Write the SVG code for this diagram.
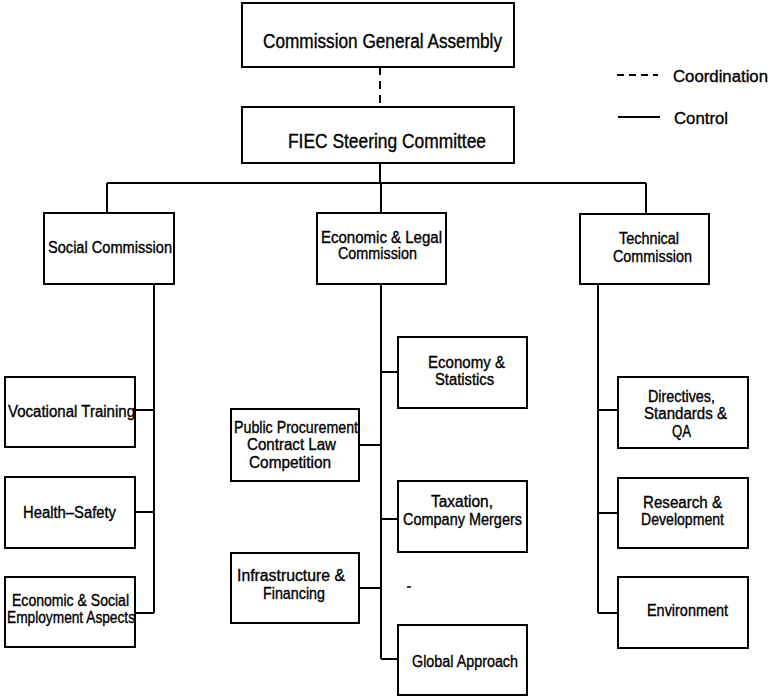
<svg xmlns="http://www.w3.org/2000/svg" width="771" height="696" viewBox="0 0 771 696">
<style>
rect{fill:#fff;stroke:#000;stroke-width:2}
text{font-family:"Liberation Sans",Arial,sans-serif;font-size:16px;fill:#000;stroke:#000;stroke-width:0.35}
.big{font-size:19.5px}
.c{fill:none;stroke:#000;stroke-width:2}
.d{fill:none;stroke:#000;stroke-width:2;stroke-dasharray:8,6}
</style>
<rect width="771" height="696" style="fill:#fff;stroke:none"/>
<g id="connectors">
<path class="d" d="M380 67V107"/>
<path class="c" d="M380 163V183M107 183H646M107 183V213M381 183V213M646 183V214"/>
<path class="c" d="M154 284V613M135 410H154M135 512H154M135 613H154"/>
<path class="c" d="M381 284V659M381 372H398M359 445H381M381 519H398M359 588H381M381 659H398"/>
<path class="c" d="M598 284V613M598 410H618M598 513H618M598 613H618"/>
<path class="c" d="M407 587H411" style="stroke-width:1.5"/>
</g>
<g id="legend">
<path class="d" d="M617 75H658" style="stroke-dasharray:7,5"/>
<text x="673" y="82" textLength="95" lengthAdjust="spacingAndGlyphs">Coordination</text>
<path class="c" d="M618 117H660"/>
<text x="674" y="124" textLength="54" lengthAdjust="spacingAndGlyphs">Control</text>
</g>
<g id="general-assembly"><rect x="242" y="3" width="272" height="64"/>
<text class="big" x="263" y="48" textLength="239" lengthAdjust="spacingAndGlyphs">Commission General Assembly</text></g>
<g id="steering"><rect x="242" y="107" width="272" height="56"/>
<text class="big" x="288" y="148" textLength="198" lengthAdjust="spacingAndGlyphs">FIEC Steering Committee</text></g>
<g id="social"><rect x="44" y="213" width="130" height="71"/>
<text x="48" y="253" textLength="124" lengthAdjust="spacingAndGlyphs">Social Commission</text></g>
<g id="econ-legal"><rect x="317" y="213" width="129" height="71"/>
<text x="321" y="243" textLength="121" lengthAdjust="spacingAndGlyphs">Economic &amp; Legal</text>
<text x="338" y="259" textLength="79" lengthAdjust="spacingAndGlyphs">Commission</text></g>
<g id="technical"><rect x="580" y="214" width="129" height="70"/>
<text x="619" y="244" textLength="60" lengthAdjust="spacingAndGlyphs">Technical</text>
<text x="613" y="262" textLength="79" lengthAdjust="spacingAndGlyphs">Commission</text></g>
<g id="vocational"><rect x="5" y="377" width="130" height="70"/>
<text x="8" y="417" textLength="127" lengthAdjust="spacingAndGlyphs">Vocational Training</text></g>
<g id="health"><rect x="5" y="477" width="130" height="71"/>
<text x="23" y="518" textLength="93" lengthAdjust="spacingAndGlyphs">Health–Safety</text></g>
<g id="econ-social"><rect x="5" y="577" width="130" height="70"/>
<text x="12" y="606" textLength="117" lengthAdjust="spacingAndGlyphs">Economic &amp; Social</text>
<text x="7" y="623" textLength="128" lengthAdjust="spacingAndGlyphs">Employment Aspects</text></g>
<g id="economy"><rect x="398" y="337" width="129" height="71"/>
<text x="428" y="368" textLength="77" lengthAdjust="spacingAndGlyphs">Economy &amp;</text>
<text x="435" y="385" textLength="59" lengthAdjust="spacingAndGlyphs">Statistics</text></g>
<g id="procurement"><rect x="231" y="409" width="128" height="72"/>
<text x="234" y="433" textLength="124" lengthAdjust="spacingAndGlyphs">Public Procurement</text>
<text x="247" y="450" textLength="89" lengthAdjust="spacingAndGlyphs">Contract Law</text>
<text x="249" y="468" textLength="82" lengthAdjust="spacingAndGlyphs">Competition</text></g>
<g id="taxation"><rect x="398" y="481" width="129" height="71"/>
<text x="431" y="507" textLength="62" lengthAdjust="spacingAndGlyphs">Taxation,</text>
<text x="403" y="525" textLength="119" lengthAdjust="spacingAndGlyphs">Company Mergers</text></g>
<g id="infrastructure"><rect x="231" y="553" width="128" height="70"/>
<text x="237" y="581" textLength="108" lengthAdjust="spacingAndGlyphs">Infrastructure &amp;</text>
<text x="263" y="599" textLength="62" lengthAdjust="spacingAndGlyphs">Financing</text></g>
<g id="global"><rect x="398" y="625" width="129" height="70"/>
<text x="412" y="667" textLength="106" lengthAdjust="spacingAndGlyphs">Global Approach</text></g>
<g id="directives"><rect x="618" y="377" width="130" height="71"/>
<text x="648" y="402" textLength="67" lengthAdjust="spacingAndGlyphs">Directives,</text>
<text x="644" y="419" textLength="83" lengthAdjust="spacingAndGlyphs">Standards &amp;</text>
<text x="672" y="437" textLength="19" lengthAdjust="spacingAndGlyphs">QA</text></g>
<g id="research"><rect x="618" y="478" width="130" height="70"/>
<text x="643" y="508" textLength="79" lengthAdjust="spacingAndGlyphs">Research &amp;</text>
<text x="641" y="525" textLength="83" lengthAdjust="spacingAndGlyphs">Development</text></g>
<g id="environment"><rect x="618" y="577" width="130" height="71"/>
<text x="647" y="616" textLength="81" lengthAdjust="spacingAndGlyphs">Environment</text></g>
</svg>
